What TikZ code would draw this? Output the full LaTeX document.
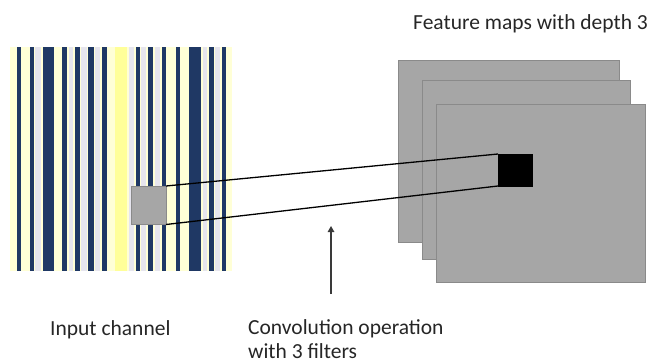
\documentclass[tikz,border=0pt]{standalone}
\usepackage{fontspec}
\setmainfont{Carlito}
\usetikzlibrary{arrows.meta}

\definecolor{navy}{HTML}{1F3864}
\definecolor{paleyellow}{HTML}{FFFFD6}
\definecolor{lavender}{HTML}{E6E5EE}
\definecolor{brightyellow}{HTML}{FFFF99}
\definecolor{mapgrey}{HTML}{A6A6A6}
\definecolor{mapedge}{HTML}{8A8A8A}
\definecolor{arrowgrey}{HTML}{3A3A3A}

\tikzset{
  plate/.style={fill=mapgrey, draw=mapedge, line width=1pt, inner sep=0pt, outer sep=0pt, anchor=north west},
  patch/.style={fill=mapgrey, draw=mapedge, line width=1pt, inner sep=0pt, outer sep=0pt, anchor=north west},
  outpixel/.style={fill=black, draw=black, line width=0.6pt, inner sep=0pt, outer sep=0pt, anchor=north west},
  ray/.style={draw=black, line width=1.3pt},
  caption/.style={font=\fontsize{21.5}{24}\selectfont, text=black!85, inner sep=0pt, anchor=base west, align=left}
}

\begin{document}
\begin{tikzpicture}[x=1pt, y=-1pt]
\useasboundingbox (0,0) rectangle (656,362);

% input channel: striped image
\node (inp) [fill=paleyellow, inner sep=0pt, outer sep=0pt, minimum width=222pt, minimum height=224pt, anchor=north west] at (10,47) {};
\foreach \a/\b in {35/41, 69/73, 81/87, 95/100, 141/146, 155/160, 203/207, 215/220, 129/134}
  \fill[lavender] (\a,47) rectangle (\b,271);
\fill[brightyellow] (115,47) rectangle (127,271);
\foreach \a/\b in {16.7/20.7, 29.7/34.3, 42.7/54, 62/67, 75/80, 88/93.7, 102/107,
                   135.7/139.7, 148/153, 161.7/166.3, 175.7/180.3, 189/201, 209/213.7, 221.7/226.3}
  \fill[navy] (\a,47) rectangle (\b,271);

% receptive field of the filter
\node (gs) [patch, minimum width=35pt, minimum height=38.5pt] at (131,186) {};

% stack of three feature maps
\node (fm1) [plate, minimum width=221pt, minimum height=182.5pt] at (398,60) {};
\node (fm2) [plate, minimum width=208.5pt, minimum height=178.5pt] at (422,80.5) {};
\node (fm3) [plate, minimum width=209pt, minimum height=178pt] at (436,104.5) {};

% output value
\node (bs) [outpixel, minimum width=34pt, minimum height=32pt] at (498,154) {};

% projection of the patch onto the output
\draw[ray] (gs.north east) -- (bs.north west);
\draw[ray] (gs.south east) -- (bs.south west);

% pointer to the operation
\coordinate (ptail) at (331,294);
\coordinate (phead) at (331,226);
\draw[arrowgrey, line width=1.3pt, -{Triangle[length=6pt, width=6.5pt]}] (ptail) -- (phead);

% captions (a multi-line node sits on the baseline of its last line)
\node (tmap) [caption] at (413,29) {Feature maps with depth 3};
\node (tin) [caption] at (50,335) {Input channel};
\node (tconv) [caption] at (248,358) {Convolution operation\\with 3 filters};
\end{tikzpicture}
\end{document}
